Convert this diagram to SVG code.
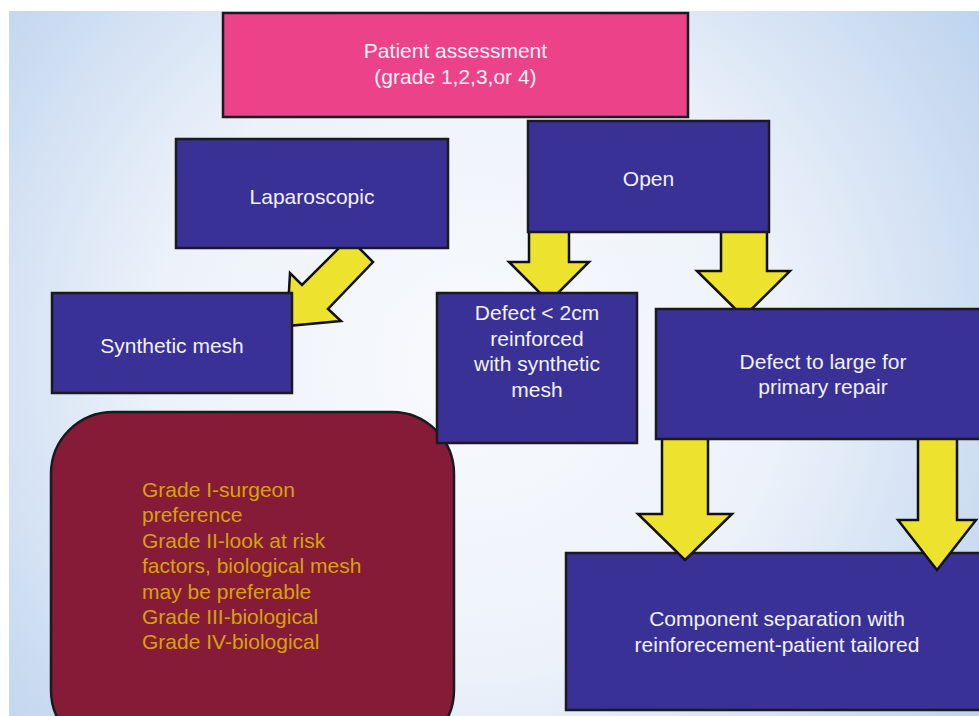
<svg xmlns="http://www.w3.org/2000/svg" width="979" height="716" viewBox="0 0 979 716">
  <defs>
    <radialGradient id="bg" gradientUnits="userSpaceOnUse" cx="470" cy="360" r="620">
      <stop offset="0" stop-color="#f8fafd"/>
      <stop offset="0.5" stop-color="#edf2fa"/>
      <stop offset="1" stop-color="#bdd3ee"/>
    </radialGradient>
  </defs>
  <style>
    .box { fill: #393196; stroke: #1b1b1f; stroke-width: 2.5; }
    .pink { fill: #ec4289; stroke: #1b1b1f; stroke-width: 2.5; }
    .note { fill: #861b37; stroke: #1b1b1f; stroke-width: 2.5; }
    .arrow { fill: #ede22d; stroke: #111111; stroke-width: 2.5; stroke-linejoin: miter; }
    text { font-family: "Liberation Sans", Arial, sans-serif; font-size: 21px; }
    .lbl { fill: #f2f2fa; text-anchor: middle; }
    .ntxt { fill: #d6a20c; }
  </style>

  <rect x="0" y="0" width="979" height="716" fill="#ffffff"/>
  <rect x="9" y="11" width="970" height="705" fill="url(#bg)"/>

  <!-- bottom box sits beneath the arrows pointing into it -->
  <g id="component">
    <rect class="box" x="566" y="553" width="440" height="157"/>
    <text class="lbl" x="777" y="626">Component separation with</text>
    <text class="lbl" x="777" y="652">reinforecement-patient tailored</text>
  </g>

  <g id="connectors">
    <!-- Laparoscopic to Synthetic mesh (diagonal) -->
    <polygon class="arrow" points="349,238 373,262 328,309 341,321 287,326 290,273 302,285"/>
    <!-- Open to Defect < 2cm -->
    <polygon class="arrow" points="529,225 569,225 569,262 589,262 549,302 509,262 529,262"/>
    <!-- Open to Defect too large -->
    <polygon class="arrow" points="721,225 767,225 767,271 790,271 743.5,317 697,271 721,271"/>
    <!-- Defect too large to Component separation -->
    <polygon class="arrow" points="662,435 708,435 708,514 732,514 685,560 638,514 662,514"/>
    <polygon class="arrow" points="918,435 957,435 957,520 976,520 937,570 898,520 918,520"/>
  </g>

  <g id="assessment">
    <rect class="pink" x="223" y="13" width="465" height="104"/>
    <text class="lbl" x="455.5" y="58">Patient assessment</text>
    <text class="lbl" x="455.5" y="84">(grade 1,2,3,or 4)</text>
  </g>

  <g id="laparoscopic">
    <rect class="box" x="176" y="139" width="272" height="109"/>
    <text class="lbl" x="312" y="204">Laparoscopic</text>
  </g>

  <g id="open">
    <rect class="box" x="528" y="121" width="241" height="111"/>
    <text class="lbl" x="648.5" y="186">Open</text>
  </g>

  <g id="synthetic">
    <rect class="box" x="52" y="293" width="240" height="100"/>
    <text class="lbl" x="172" y="353">Synthetic mesh</text>
  </g>

  <g id="grades">
    <rect class="note" x="51" y="412" width="403" height="340" rx="62" ry="62"/>
    <text class="ntxt" x="142" y="497">Grade I-surgeon</text>
    <text class="ntxt" x="142" y="522.4">preference</text>
    <text class="ntxt" x="142" y="547.8">Grade II-look at risk</text>
    <text class="ntxt" x="142" y="573.2">factors, biological mesh</text>
    <text class="ntxt" x="142" y="598.6">may be preferable</text>
    <text class="ntxt" x="142" y="624">Grade III-biological</text>
    <text class="ntxt" x="142" y="649.4">Grade IV-biological</text>
  </g>

  <g id="small-defect">
    <rect class="box" x="437" y="293" width="200" height="150"/>
    <text class="lbl" x="537" y="320">Defect &lt; 2cm</text>
    <text class="lbl" x="537" y="345.5">reinforced</text>
    <text class="lbl" x="537" y="371">with synthetic</text>
    <text class="lbl" x="537" y="396.5">mesh</text>
  </g>

  <g id="large-defect">
    <rect class="box" x="656" y="309" width="340" height="130"/>
    <text class="lbl" x="823" y="369">Defect to large for</text>
    <text class="lbl" x="823" y="394">primary repair</text>
  </g>
</svg>
